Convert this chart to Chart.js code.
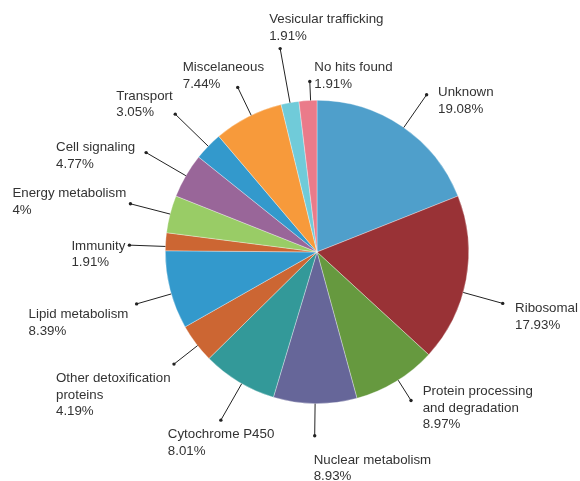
<!DOCTYPE html>
<html>
<head>
<meta charset="utf-8">
<script src="https://cdn.jsdelivr.net/npm/chart.js@4/dist/chart.umd.min.js"></script>
<style>
  html, body { margin: 0; padding: 0; background: #ffffff; }
  #wrap { width: 580px; height: 481px; position: relative; }
</style>
</head>
<body>
<div id="wrap"><canvas id="c" width="580" height="481"></canvas></div>
<script>
// ---- data ----
const categories = [
  'Unknown',
  'Ribosomal',
  'Protein processing\nand degradation',
  'Nuclear metabolism',
  'Cytochrome P450',
  'Other detoxification\nproteins',
  'Lipid metabolism',
  'Immunity',
  'Energy metabolism',
  'Cell signaling',
  'Transport',
  'Miscelaneous',
  'Vesicular trafficking',
  'No hits found'
];
const percentages = [19.08, 17.93, 8.97, 8.93, 8.01, 4.19, 8.39, 1.91, 4, 4.77, 3.05, 7.44, 1.91, 1.91];

// ---- styles / layout ----
const sliceColors = [
  '#4f9fcb', '#993236', '#66993f', '#666699', '#339999', '#cc6633', '#3399cc',
  '#cc6633', '#99cc66', '#996699', '#3399cc', '#f79a3b', '#70cbd9', '#ea7b8a'
];
// leader: length beyond the rim and small angular nudge (deg) from the slice middle;
// text: offset from the leader dot (left edge, first line centre)
const leaderLen   = [40, 41, 24, 32, 42, 30, 36, 36, 41, 46, 46, 31, 55, 19];
const leaderNudge = [0.7, 5, -1, 0, -1.3, -1, -1.5, -1.8, 0, 0, 0, 1.3, 0, 1];
const textDX      = [11.5, 12.4, 11.7, -1, -53, -118, -108, -58, -118, -90, -59, -55, -11, 4.5];
const textDY      = [-2, 5, -9, 24.5, 14.5, 14.5, 10.5, 1, -10, -5, -18, -20, -29, -14];

const FONT = '13.3px "Liberation Sans", Arial, sans-serif';
const LINE_H = 16.5;
const TEXT_COLOR = '#333333';

const outerLabels = {
  id: 'outerLabels',
  afterDatasetsDraw(chart) {
    const ctx = chart.ctx;
    const meta = chart.getDatasetMeta(0);
    const ds = chart.data.datasets[0];
    ctx.save();
    meta.data.forEach((arc, i) => {
      const p = arc.getProps(['x', 'y', 'startAngle', 'endAngle', 'outerRadius'], true);
      const mid = (p.startAngle + p.endAngle) / 2 + leaderNudge[i] * Math.PI / 180;
      const cx = Math.cos(mid), sy = Math.sin(mid);
      const x0 = p.x + p.outerRadius * cx, y0 = p.y + p.outerRadius * sy;
      const r1 = p.outerRadius + leaderLen[i];
      const x1 = p.x + r1 * cx, y1 = p.y + r1 * sy;
      ctx.strokeStyle = '#222222';
      ctx.lineWidth = 1;
      ctx.beginPath();
      ctx.moveTo(x0, y0);
      ctx.lineTo(x1, y1);
      ctx.stroke();
      ctx.fillStyle = '#222222';
      ctx.beginPath();
      ctx.arc(x1, y1, 1.7, 0, Math.PI * 2);
      ctx.fill();
      const lines = chart.data.labels[i].split('\n').concat([String(ds.data[i]) + '%']);
      ctx.font = FONT;
      ctx.fillStyle = TEXT_COLOR;
      ctx.textAlign = 'left';
      ctx.textBaseline = 'middle';
      lines.forEach((t, k) => {
        ctx.fillText(t, x1 + textDX[i], y1 + textDY[i] + k * LINE_H);
      });
    });
    ctx.restore();
  }
};

new Chart(document.getElementById('c'), {
  type: 'pie',
  data: {
    labels: categories,
    datasets: [{
      data: percentages,
      backgroundColor: sliceColors,
      borderColor: 'rgba(255,255,255,0.55)',
      borderWidth: 0.6
    }]
  },
  options: {
    responsive: false,
    animation: false,
    layout: { padding: { top: 100, bottom: 77, left: 165, right: 111 } },
    plugins: {
      legend: { display: false },
      tooltip: { enabled: false },
      title: { display: false }
    }
  },
  plugins: [outerLabels]
});
</script>
</body>
</html>
